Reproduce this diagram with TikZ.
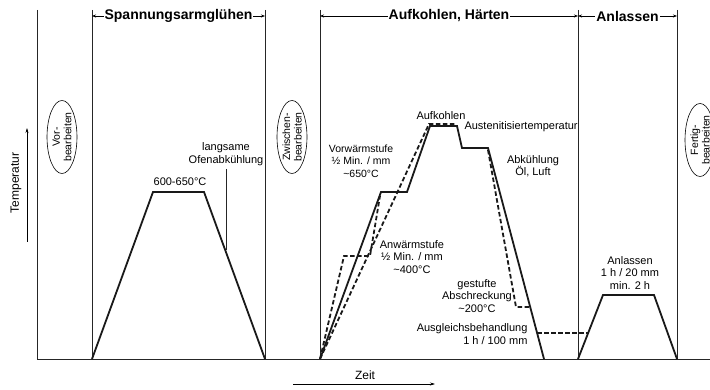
\documentclass[tikz,border=0pt]{standalone}
\usepackage{fontspec}
\setmainfont{Liberation Sans}
\usetikzlibrary{shapes.geometric,arrows.meta}

\begin{document}
\begin{tikzpicture}[
    x=1pt, y=-1pt,
    font=\fontsize{11}{12.5}\selectfont,
    frame/.style={line width=0.7pt, black!85},
    curve/.style={line width=1.8pt, black!90},
    dashcurve/.style={curve, dash pattern=on 4.5pt off 2.5pt},
    phase/.style={{Stealth[length=4pt,width=3pt]}-{Stealth[length=4pt,width=3pt]}, line width=0.6pt},
    phaselabel/.style={fill=white, inner sep=1pt, font=\fontsize{14}{16}\bfseries},
    axis/.style={-{Stealth[length=5pt,width=3pt]}, line width=0.6pt},
    work/.style={ellipse, draw, line width=0.6pt, rotate=90, minimum width=73pt, minimum height=30pt, inner sep=0pt, align=center, font=\fontsize{10.5}{11.5}\selectfont},
    note/.style={align=center}
]
    \useasboundingbox (0,0) rectangle (710,390);
    \clip (0,0) rectangle (710,390);

    % phase borders
    \foreach \x/\n in {37/a,92/b,265/c,320/d,578/e,677/f} {
        \coordinate (top\n) at (\x,10);
        \coordinate (bot\n) at (\x,359);
        \draw[frame] (top\n) -- (bot\n);
    }
    \coordinate (end) at (710,359);
    \draw[frame] (bota) -- (end);

    % phase headers
    \coordinate (hb) at (92,16);
    \coordinate (hc) at (265,16);
    \coordinate (hd) at (320,16);
    \coordinate (he) at (578,16);
    \coordinate (hf) at (677,16);
    \draw[phase] (hb) -- node[phaselabel] {Spannungsarmglühen} (hc);
    \draw[phase] (hd) -- node[phaselabel] {Aufkohlen, Härten} (he);
    \draw[phase] (he) -- node[phaselabel] {Anlassen} (hf);

    % machining steps
    \node[work] (vor) at (62,137) {Vor-\\bearbeiten};
    \node[work] (zwischen) at (292,137) {Zwischen-\\bearbeiten};
    \node[work] (fertig) at (700,140) {Fertig-\\bearbeiten};

    % axes
    \coordinate (t0) at (27,242);
    \coordinate (t1) at (27,128);
    \draw[axis] (t0) -- (t1);
    \node[rotate=90, font=\fontsize{12}{14}\selectfont] (temp) at (16,183) {Temperatur};
    \coordinate (z0) at (293,384);
    \coordinate (z1) at (435,384);
    \draw[axis] (z0) -- (z1);
    \node[font=\fontsize{12}{14}\selectfont] (zeit) at (365,375) {Zeit};

    % Spannungsarmgluehen
    \draw[curve] (92,359) -- (153,192) -- (204,192) -- (265,359);
    \node[note] (gluehtemp) at (180,182) {600-650°C};
    \node[note] (ofen) at (226,154) {langsame\\Ofenabkühlung};
    \draw[frame] (ofen.south) -- (226,250);

    % Aufkohlen, Haerten
    \draw[dashcurve] (320,359) -- (344,256) -- (370,256) -- (380,196);
    \draw[dashcurve] (320,359) -- (429,124) -- (456,124);
    \draw[curve] (320,359) -- (381,192) -- (407,192) -- (430,126) -- (457,126)
        -- (462,148) -- (488,148) -- (544,359);
    \draw[dashcurve] (488,150) -- (516,307) -- (531,307);
    \draw[dashcurve] (537,333) -- (588,333);

    \node[note] (aufkohlen) at (441,116) {Aufkohlen};
    \node[anchor=west] (austenit) at (461,127) {Austenitisiertemperatur};
    \node[note] (abkuehl) at (533,166) {Abkühlung\\Öl, Luft};
    \node[note, font=\fontsize{10.5}{12.5}\selectfont] (vorwaerm) at (361,161) {Vorwärmstufe\\½ Min. / mm\\\textasciitilde650°C};
    \node[note] (anwaerm) at (412,257) {Anwärmstufe\\½ Min. / mm\\\textasciitilde400°C};
    \node[note] (gestuft) at (477,296) {gestufte\\Abschreckung\\\textasciitilde200°C};
    \node[align=right, anchor=east] (ausgleich) at (531,334) {Ausgleichsbehandlung\\1 h / 100 mm};

    % Anlassen
    \draw[curve] (578,359) -- (603,295) -- (654,295) -- (677,359);
    \node[note] (anlassen) at (630,273) {Anlassen\\1 h / 20 mm\\min. 2 h};
\end{tikzpicture}
\end{document}
